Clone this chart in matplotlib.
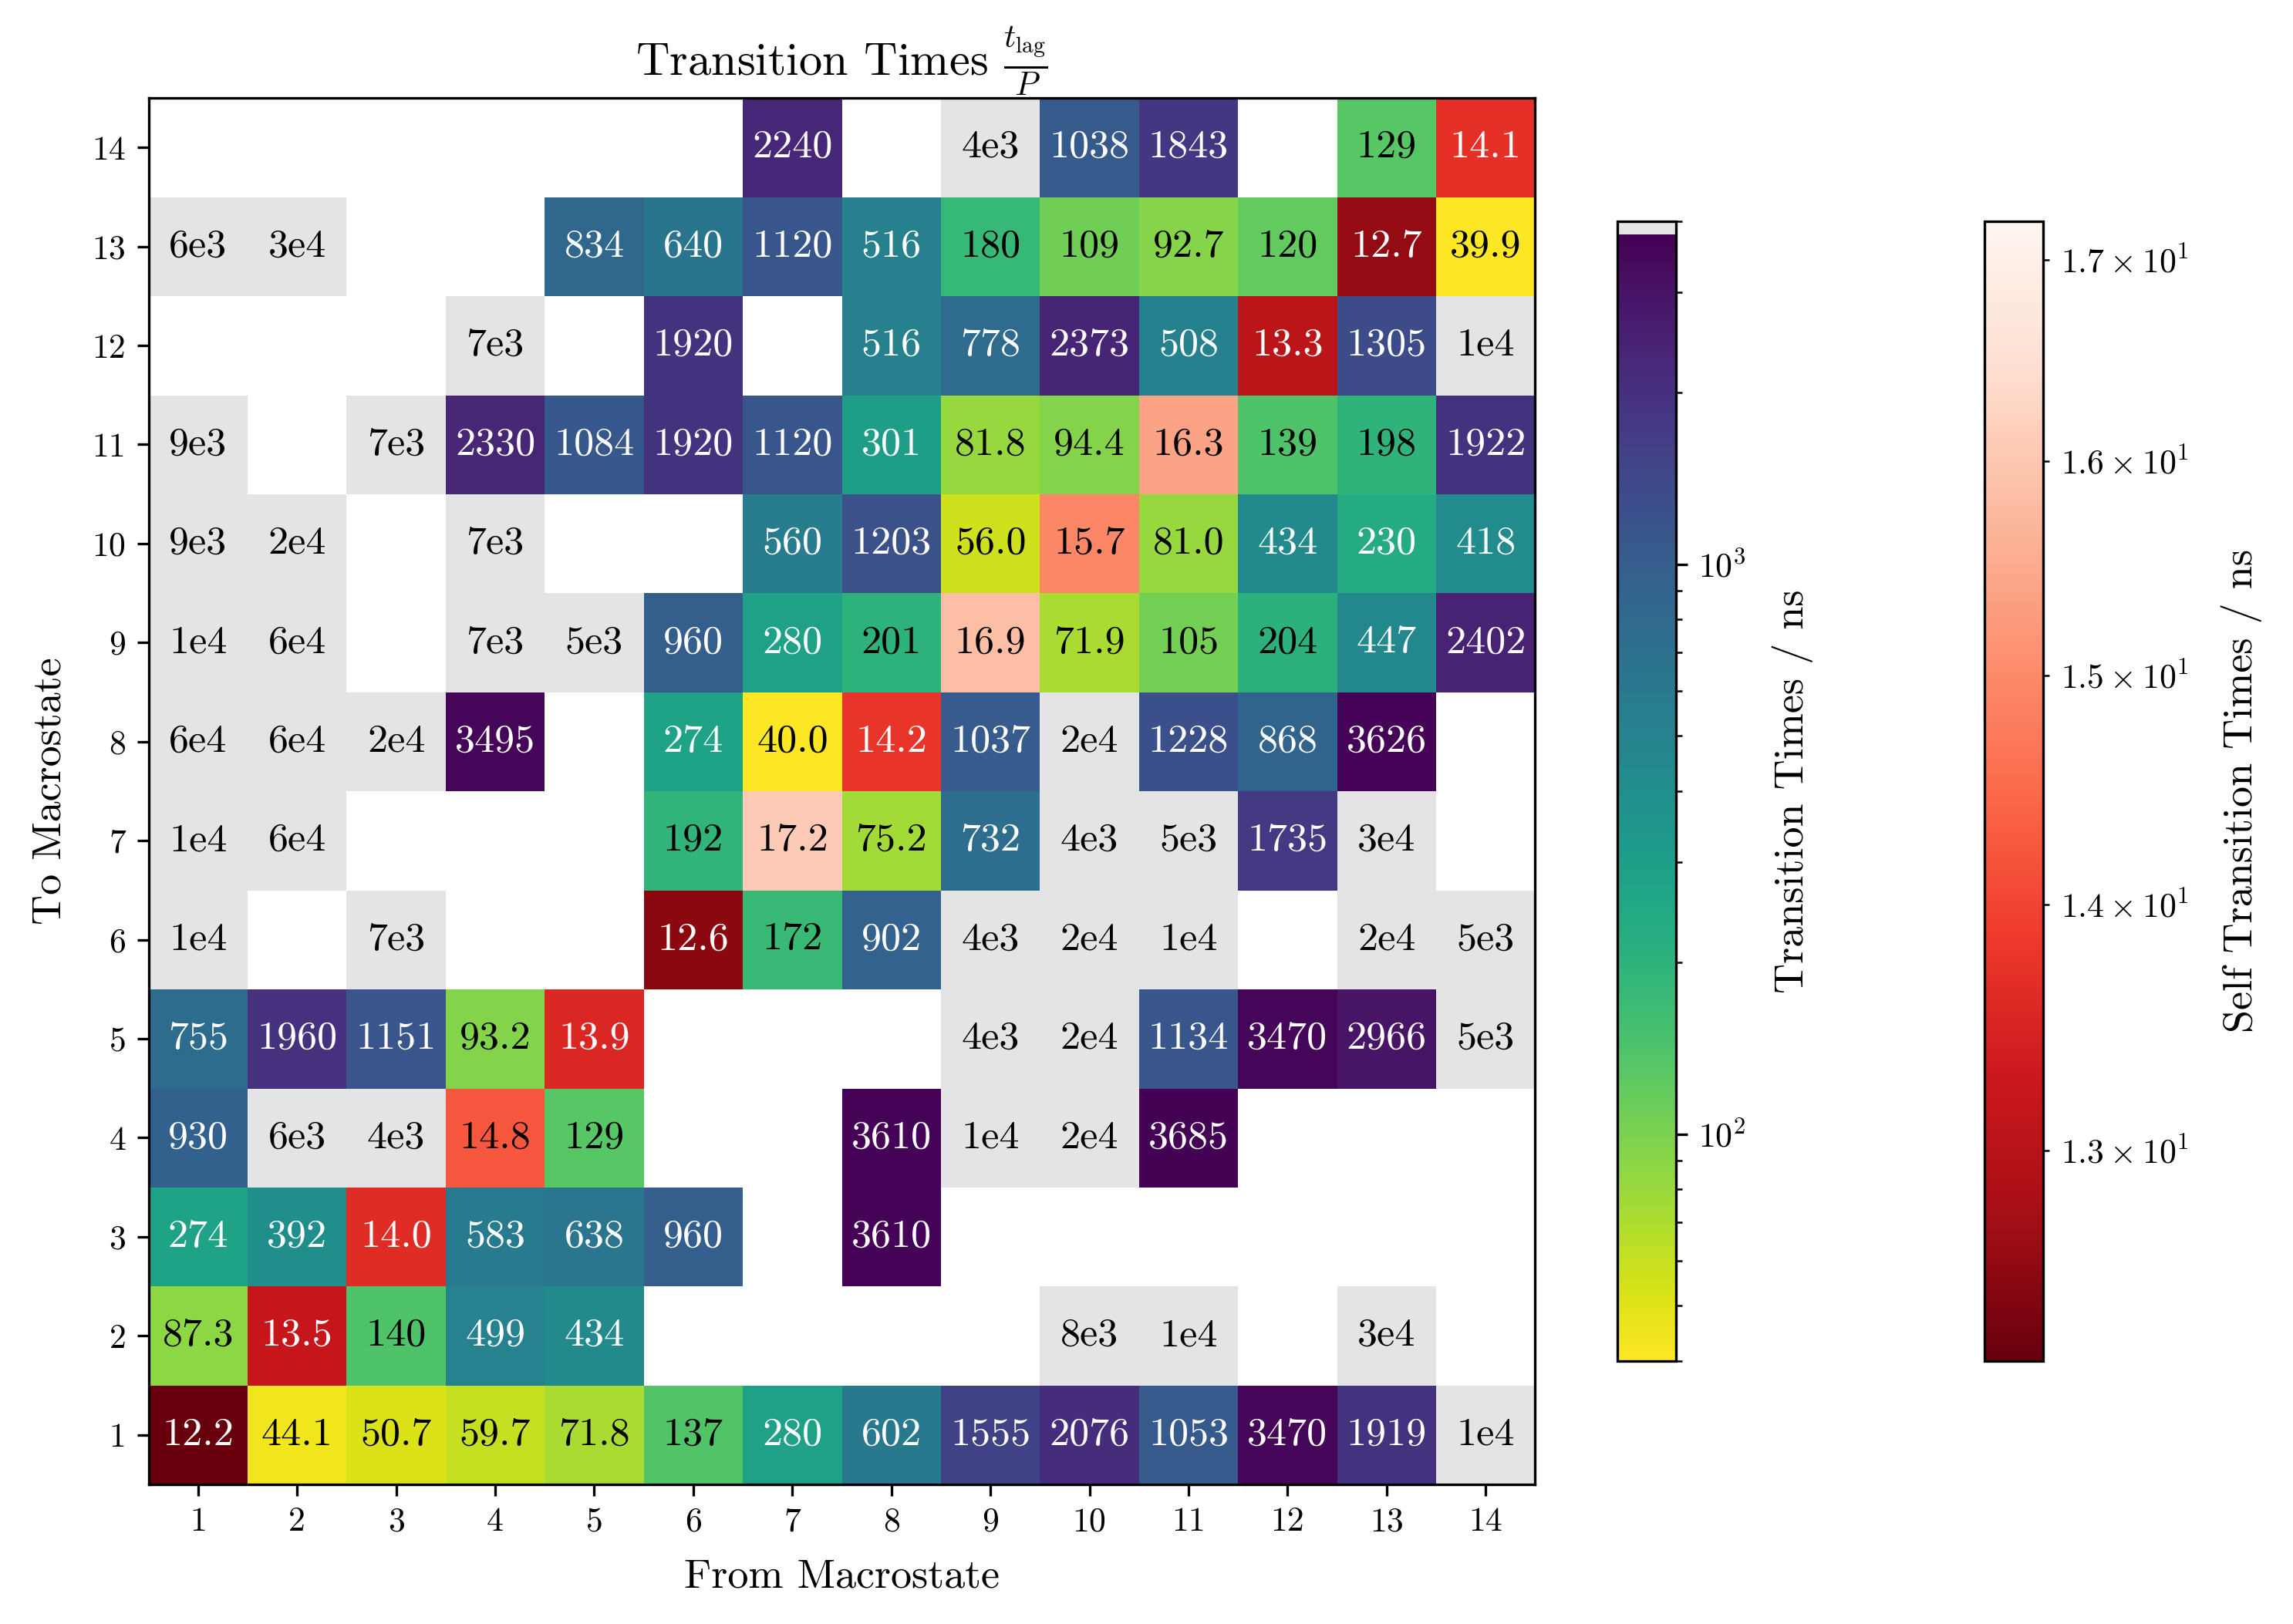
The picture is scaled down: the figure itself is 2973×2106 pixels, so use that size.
import numpy as np
import matplotlib
matplotlib.use('Agg')
import matplotlib.pyplot as plt
from matplotlib.colors import LogNorm, ListedColormap
from matplotlib.cm import ScalarMappable

plt.rcParams['font.family'] = 'serif'
plt.rcParams['font.serif'] = ['cmr10']
plt.rcParams['mathtext.fontset'] = 'cm'
plt.rcParams['axes.formatter.use_mathtext'] = True

# transition times in ns, one list per "to" macrostate, columns are "from" 1..14
# None = no transition observed
to1 = [12.2, 44.1, 50.7, 59.7, 71.8, 137, 280, 602, 1555, 2076, 1053, 3470, 1919, 1e4]
to2 = [87.3, 13.5, 140, 499, 434, None, None, None, None, 8e3, 1e4, None, 3e4, None]
to3 = [274, 392, 14.0, 583, 638, 960, None, 3610, None, None, None, None, None, None]
to4 = [930, 6e3, 4e3, 14.8, 129, None, None, 3610, 1e4, 2e4, 3685, None, None, None]
to5 = [755, 1960, 1151, 93.2, 13.9, None, None, None, 4e3, 2e4, 1134, 3470, 2966, 5e3]
to6 = [1e4, None, 7e3, None, None, 12.6, 172, 902, 4e3, 2e4, 1e4, None, 2e4, 5e3]
to7 = [1e4, 6e4, None, None, None, 192, 17.2, 75.2, 732, 4e3, 5e3, 1735, 3e4, None]
to8 = [6e4, 6e4, 2e4, 3495, None, 274, 40.0, 14.2, 1037, 2e4, 1228, 868, 3626, None]
to9 = [1e4, 6e4, None, 7e3, 5e3, 960, 280, 201, 16.9, 71.9, 105, 204, 447, 2402]
to10 = [9e3, 2e4, None, 7e3, None, None, 560, 1203, 56.0, 15.7, 81.0, 434, 230, 418]
to11 = [9e3, None, 7e3, 2330, 1084, 1920, 1120, 301, 81.8, 94.4, 16.3, 139, 198, 1922]
to12 = [None, None, None, 7e3, None, 1920, None, 516, 778, 2373, 508, 13.3, 1305, 1e4]
to13 = [6e3, 3e4, None, None, 834, 640, 1120, 516, 180, 109, 92.7, 120, 12.7, 39.9]
to14 = [None, None, None, None, None, None, 2240, None, 4e3, 1038, 1843, None, 129, 14.1]

states = list(range(1, 15))
cutoff = 4000      # longer times are drawn grey
tmin = 40
self_cell_max = 18.7   # upper end used for colouring the diagonal cells

rows = [to1, to2, to3, to4, to5, to6, to7, to8, to9, to10, to11, to12, to13, to14]
T = np.array([[np.nan if v is None else v for v in r] for r in rows], dtype=float)
n = len(states)
diag = np.eye(n, dtype=bool)

off = np.ma.masked_where(diag | np.isnan(T), T)
self_t = np.ma.masked_where(~diag, T)

grey = (0.898, 0.898, 0.898)
vir = plt.get_cmap('viridis_r')(np.linspace(0, 1, 253))
cmap_off = ListedColormap(list(vir) + [grey] * 3)
cmap_off.set_over(grey)
cmap_off.set_bad((1, 1, 1, 0))
cmap_self = plt.get_cmap('Reds_r').copy()
cmap_self.set_bad((1, 1, 1, 0))

dmin = np.nanmin(np.diag(T))
dmax = np.nanmax(np.diag(T))
norm_off = LogNorm(vmin=tmin, vmax=cutoff)

fig = plt.figure(figsize=(2973 / 300, 2106 / 300), dpi=300)
ax = fig.add_axes([0.0639, 0.086, 0.6065, 0.8537])
cax1 = fig.add_axes([0.7054, 0.162, 0.0256, 0.7018])
cax2 = fig.add_axes([0.8655, 0.162, 0.0256, 0.7018])

im1 = ax.imshow(off, cmap=cmap_off, norm=norm_off, origin='lower')
ax.imshow(self_t, cmap=cmap_self, norm=LogNorm(vmin=dmin, vmax=self_cell_max), origin='lower')

# annotate cells
for i in range(n):
    for j in range(n):
        v = T[i, j]
        if np.isnan(v):
            continue
        if v >= cutoff:
            m, e = ('%.0e' % v).split('e')
            label = m + 'e' + str(int(e))
            col = 'black'
        else:
            label = '%.1f' % v if v < 100 else '%.0f' % v
            if i == j:
                col = 'white' if v < 14.5 else 'black'
            else:
                col = 'white' if v > 215 else 'black'
        ax.text(j, i, label, ha='center', va='center', fontsize=12.5, color=col)

ax.set_xticks(range(n))
ax.set_xticklabels(states)
ax.set_yticks(range(n))
ax.set_yticklabels(states)
ax.tick_params(labelsize=10.5)
ax.set_xlabel('From Macrostate', fontsize=13, labelpad=6.5)
ax.set_ylabel('To Macrostate', fontsize=13, labelpad=7.5)
ax.set_title(r'Transition Times $\frac{t_\mathrm{lag}}{P}$', fontsize=14.5)

cb1 = fig.colorbar(im1, cax=cax1)
cb1.set_label('Transition Times / ns', fontsize=13, labelpad=8)
cb1.ax.tick_params(labelsize=10.5)
sm = ScalarMappable(norm=LogNorm(vmin=dmin, vmax=dmax), cmap=cmap_self)
cb2 = fig.colorbar(sm, cax=cax2)
cb2.set_label('Self Transition Times / ns', fontsize=13, labelpad=10)
cb2.ax.tick_params(labelsize=10.5, which='both')

fig.savefig('out.png', dpi=300)
